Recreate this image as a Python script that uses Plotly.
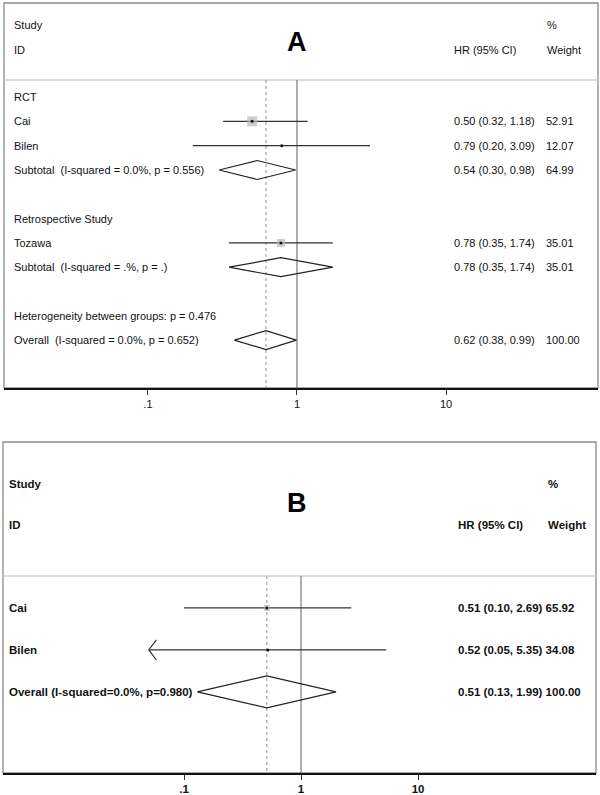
import math
import plotly.graph_objects as go

# ---------------- Data: panel A ----------------
a_row_labels = ["RCT", "Cai", "Bilen", "Subtotal  (I-squared = 0.0%, p = 0.556)", "",
                "Retrospective Study", "Tozawa", "Subtotal  (I-squared = .%, p = .)", "",
                "Heterogeneity between groups: p = 0.476", "Overall  (I-squared = 0.0%, p = 0.652)"]
a_study_rows = [2, 3, 7]
a_study_hr = [0.50, 0.79, 0.78]
a_study_lo = [0.32, 0.20, 0.35]
a_study_hi = [1.18, 3.09, 1.74]
a_study_wt = [52.91, 12.07, 35.01]
a_study_box = [10, 3, 8]
a_pool_rows = [4, 8, 11]
a_pool_hr = [0.54, 0.78, 0.62]
a_pool_lo = [0.30, 0.35, 0.38]
a_pool_hi = [0.98, 1.74, 0.99]
a_pool_wt = [64.99, 35.01, 100.00]

# ---------------- Data: panel B ----------------
b_row_labels = ["Cai", "Bilen", "Overall (I-squared=0.0%, p=0.980)"]
b_study_rows = [1, 2]
b_study_hr = [0.51, 0.52]
b_study_lo = [0.10, 0.05]
b_study_hi = [2.69, 5.35]
b_study_wt = [65.92, 34.08]
b_study_box = [6, 2]
b_study_arrow = [False, True]
b_pool_rows = [3]
b_pool_hr = [0.51]
b_pool_lo = [0.13]
b_pool_hi = [1.99]
b_pool_wt = [100.00]

tick_vals = [0.1, 1, 10]
tick_text = [".1", "1", "10"]

W, H = 600, 795
FONT = "Liberation Sans, Arial, sans-serif"

fig = go.Figure()


def px(v):
    return v / W


def py(v):
    return 1 - v / H


# panel geometry
A = dict(xa="x", ya="y", left=4, right=598, top=3, bottom=388,
         xrange=[-1.966, 2.020], yrange=[12.97, -2.87], sep=0.3,
         size=11, bold=False, lab_x=12, hr_x=452, wt_x=545,
         study_y=-1.96, id_y=-0.93, letter="A", letter_y=-1.25, dh=0.39)
B = dict(xa="x2", ya="y2", left=3, right=596, top=442, bottom=773,
         xrange=[-2.547, 2.521], yrange=[4.93, -2.95], sep=0.24,
         size=11.5, bold=True, lab_x=7, hr_x=456, wt_x=546,
         study_y=-1.95, id_y=-0.98, letter="B", letter_y=-1.5, dh=0.38)

annotations = []
shapes = []


def txt(s, bold):
    return f"<b>{s}</b>" if bold else s


def add_panel(P, labels, label_rows, srows, shr, slo, shi, swt, sbox, prows, phr, plo, phi, pwt, arrows=None):
    xa, ya = P["xa"], P["ya"]
    ybot = P["yrange"][0]
    # frame
    shapes.append(dict(type="rect", xref="paper", yref="paper",
                       x0=px(P["left"]), x1=px(P["right"]), y0=py(P["bottom"]), y1=py(P["top"]),
                       line=dict(color="#8a8a8a", width=1.3), layer="below"))
    # header separator
    fig.add_trace(go.Scatter(x=[10 ** P["xrange"][0], 10 ** P["xrange"][1]], y=[P["sep"], P["sep"]],
                             mode="lines", line=dict(color="#cfcfcf", width=1.6),
                             xaxis=xa, yaxis=ya, showlegend=False, hoverinfo="skip", cliponaxis=False))
    # null line
    fig.add_trace(go.Scatter(x=[1, 1], y=[P["sep"], ybot], mode="lines",
                             line=dict(color="#6e6e6e", width=1.1),
                             xaxis=xa, yaxis=ya, showlegend=False, hoverinfo="skip"))
    # overall estimate dashed line
    fig.add_trace(go.Scatter(x=[phr[-1], phr[-1]], y=[P["sep"], ybot], mode="lines",
                             line=dict(color="#9a9a9a", width=1.1, dash="3px,3px"),
                             xaxis=xa, yaxis=ya, showlegend=False, hoverinfo="skip"))
    # study CIs
    for i, r in enumerate(srows):
        fig.add_trace(go.Scatter(x=[slo[i], shi[i]], y=[r, r], mode="lines",
                                 line=dict(color="#333333", width=1.3),
                                 xaxis=xa, yaxis=ya, showlegend=False, hoverinfo="skip"))
        if arrows is not None and arrows[i]:
            lx = math.log10(slo[i])
            fig.add_trace(go.Scatter(x=[10 ** (lx + 0.065), slo[i], 10 ** (lx + 0.065)],
                                     y=[r - 0.24, r, r + 0.24], mode="lines",
                                     line=dict(color="#333333", width=1.2),
                                     xaxis=xa, yaxis=ya, showlegend=False, hoverinfo="skip"))
    # weight boxes
    fig.add_trace(go.Scatter(x=shr, y=srows, mode="markers",
                             marker=dict(symbol="square", size=sbox, color="#b8b8b8", line=dict(width=0)),
                             xaxis=xa, yaxis=ya, showlegend=False, hoverinfo="skip"))
    fig.add_trace(go.Scatter(x=shr, y=srows, mode="markers",
                             marker=dict(symbol="circle", size=3, color="#111111"),
                             xaxis=xa, yaxis=ya, showlegend=False, hoverinfo="skip"))
    # diamonds
    dh = P["dh"]
    for i, r in enumerate(prows):
        fig.add_trace(go.Scatter(x=[plo[i], phr[i], phi[i], phr[i], plo[i]],
                                 y=[r, r - dh, r, r + dh, r], mode="lines",
                                 line=dict(color="#222222", width=1.2),
                                 xaxis=xa, yaxis=ya, showlegend=False, hoverinfo="skip"))
    bold = P["bold"]
    fs = P["size"]
    f = dict(family=FONT, size=fs, color="#111111")

    def ann(x, y, s, **kw):
        d = dict(x=px(x), y=y, xref="paper", yref=ya, text=txt(s, bold), showarrow=False,
                 xanchor="left", yanchor="middle", font=f)
        d.update(kw)
        annotations.append(d)

    # headers
    ann(P["lab_x"], P["study_y"], "Study")
    ann(P["lab_x"], P["id_y"], "ID")
    ann(P["hr_x"], P["id_y"], "HR (95% CI)")
    ann(P["wt_x"], P["study_y"], "%")
    ann(P["wt_x"], P["id_y"], "Weight")
    annotations.append(dict(x=px(297), y=P["letter_y"], xref="paper", yref=ya, text=f"<b>{P['letter']}</b>",
                            showarrow=False, xanchor="center", yanchor="middle",
                            font=dict(family=FONT, size=27, color="#000000")))
    # row labels
    for s, r in zip(labels, label_rows):
        if s:
            ann(P["lab_x"], r, s)
    # values
    for hr, lo, hi, wt, r in list(zip(shr, slo, shi, swt, srows)) + list(zip(phr, plo, phi, pwt, prows)):
        if bold:
            ann(P["hr_x"], r, f"{hr:.2f} ({lo:.2f}, {hi:.2f}) {wt:.2f}")
        else:
            ann(P["hr_x"], r, f"{hr:.2f} ({lo:.2f}, {hi:.2f})")
            ann(P["wt_x"] - 1, r, f"{wt:.2f}")


add_panel(A, a_row_labels, list(range(1, len(a_row_labels) + 1)),
          a_study_rows, a_study_hr, a_study_lo, a_study_hi, a_study_wt, a_study_box,
          a_pool_rows, a_pool_hr, a_pool_lo, a_pool_hi, a_pool_wt)
add_panel(B, b_row_labels, [1, 2, 3],
          b_study_rows, b_study_hr, b_study_lo, b_study_hi, b_study_wt, b_study_box,
          b_pool_rows, b_pool_hr, b_pool_lo, b_pool_hi, b_pool_wt, arrows=b_study_arrow)


def xaxis(P, anchor):
    return dict(type="log", range=P["xrange"], domain=[px(P["left"]), px(P["right"])],
                anchor=anchor, showgrid=False, zeroline=False, showline=True, linecolor="#111111",
                linewidth=1.6, ticks="outside", ticklen=5, tickcolor="#333333", tickwidth=1,
                tickvals=tick_vals, ticktext=[txt(t, P["bold"]) for t in tick_text],
                tickfont=dict(family=FONT, size=P["size"], color="#111111"), fixedrange=True)


def yaxis(P, anchor):
    return dict(range=P["yrange"], domain=[py(P["bottom"]), py(P["top"])], anchor=anchor,
                visible=False, showgrid=False, zeroline=False, fixedrange=True)


fig.update_layout(
    width=W, height=H, margin=dict(l=0, r=0, t=0, b=0),
    paper_bgcolor="white", plot_bgcolor="rgba(0,0,0,0)",
    xaxis=xaxis(A, "y"), yaxis=yaxis(A, "x"),
    xaxis2=xaxis(B, "y2"), yaxis2=yaxis(B, "x2"),
    annotations=annotations, shapes=shapes, showlegend=False, hovermode=False,
)

fig.write_html("out.html", config={"displayModeBar": False, "staticPlot": True},
               post_script="document.body.style.margin='0';document.body.style.overflow='hidden';")
